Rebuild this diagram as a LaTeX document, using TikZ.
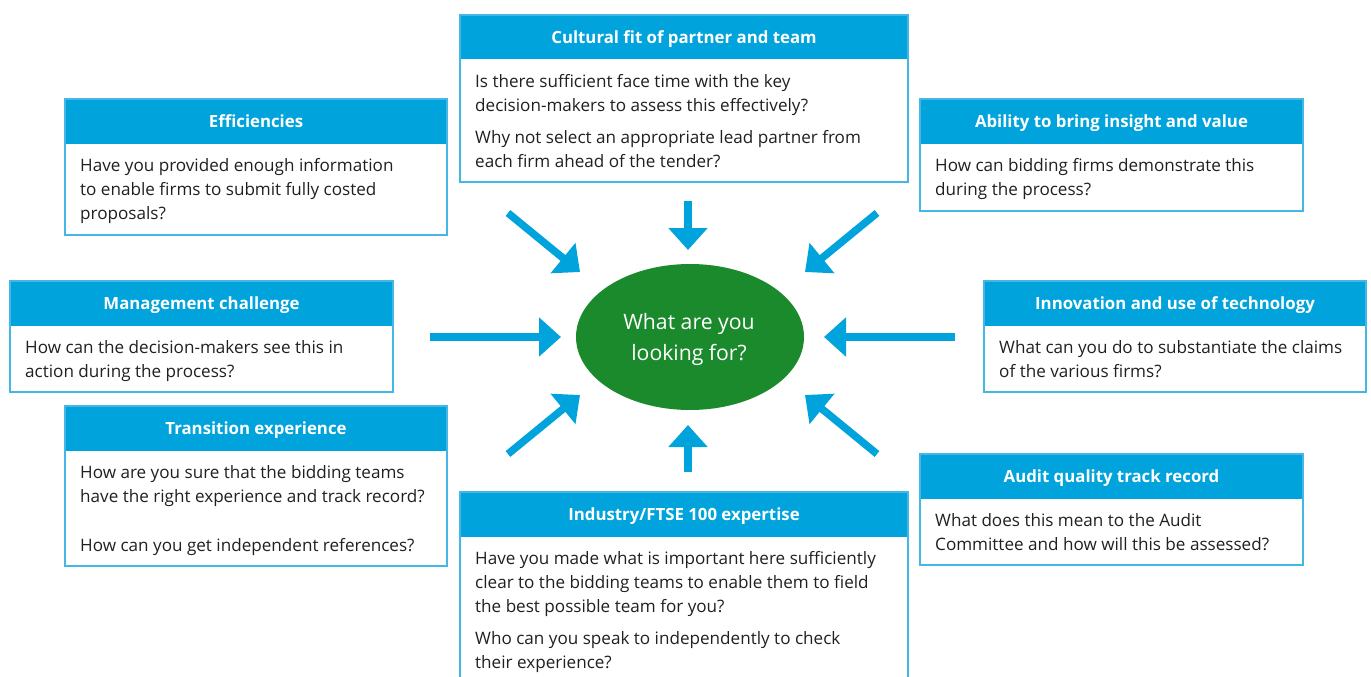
\documentclass[tikz,border=0pt]{standalone}
\usepackage{fontspec}
\setmainfont{Open Sans}
\usetikzlibrary{arrows.meta,shapes.geometric}
\definecolor{hdr}{HTML}{00A3DC}
\definecolor{brd}{HTML}{45B6E6}
\definecolor{txt}{HTML}{231F20}
\definecolor{grn}{HTML}{1B8A2C}
\tikzset{
  hdrtext/.style={text=white, font=\bfseries\fontsize{16.8}{20}\selectfont, inner sep=0pt, anchor=base},
  bodytext/.style={text=txt, font=\fontsize{17.1}{24}\selectfont, align=left, inner sep=0pt, anchor=north west},
  bigarrow/.style={draw=hdr, line width=7.5pt, -{Triangle[length=22pt,width=38pt]}},
  hub/.style={ellipse, fill=grn, minimum width=228pt, minimum height=146pt, inner sep=0pt},
  hubtext/.style={text=white, font=\fontsize{21.2}{31}\selectfont, align=center, inner sep=0pt}
}
\newcommand\qbox[7]{%
  \fill[hdr] (#2,#3) rectangle (#4,#3+44.5);
  \draw[brd, line width=1.5pt] (#2,#3) rectangle (#4,#5);
  \node[hdrtext] (#1-t) at ({(#2+#4)/2},#3+28.5) {#6};
  \node[bodytext] (#1-b) at (#2+15,#3+55.5) {\rule{0pt}{17pt}#7};
}
\begin{document}
\begin{tikzpicture}[x=1pt,y=-1pt]
\useasboundingbox[fill=white] (0,0) rectangle (1371,677);

\qbox{cult}{460}{15}{908}{182}{Cultural fit of partner and team}
 {Is there sufficient face time with the key\\decision-makers to assess this effectively?\\[8pt]Why not select an appropriate lead partner from\\each firm ahead of the tender?}
\qbox{eff}{65}{99}{447}{235}{Efficiencies}
 {Have you provided enough information\\to enable firms to submit fully costed\\proposals?}
\qbox{abil}{920}{99}{1303}{211}{Ability to bring insight and value}
 {How can bidding firms demonstrate this\\during the process?}
\qbox{mgmt}{10}{281}{393}{392}{Management challenge}
 {How can the decision-makers see this in\\action during the process?}
\qbox{innov}{984}{281}{1366}{392}{Innovation and use of technology}
 {What can you do to substantiate the claims\\of the various firms?}
\qbox{trans}{65}{406}{447}{566}{Transition experience}
 {How are you sure that the bidding teams\\have the right experience and track record?\\[25pt]How can you get independent references?}
\qbox{audit}{920}{454}{1303}{565}{Audit quality track record}
 {What does this mean to the Audit\\Committee and how will this be assessed?}
\qbox{ind}{460}{492}{908}{690}{Industry/FTSE 100 expertise}
 {Have you made what is important here sufficiently\\clear to the bidding teams to enable them to field\\the best possible team for you?\\[8pt]Who can you speak to independently to check\\their experience?}

\node[hub] (hub) at (690,337) {};
\node[hubtext] (hubtxt) at (689,339) {What are you\\looking for?};

\coordinate (aT0) at (688,201);  \coordinate (aT1) at (688,250);
\coordinate (aB0) at (688,472);  \coordinate (aB1) at (688,425);
\coordinate (aL0) at (430,337);  \coordinate (aL1) at (561,337);
\coordinate (aR0) at (955,337);  \coordinate (aR1) at (824,337);
\coordinate (aTL0) at (508,213); \coordinate (aTL1) at (580,272);
\coordinate (aTR0) at (877,213); \coordinate (aTR1) at (805,272);
\coordinate (aBL0) at (508,454); \coordinate (aBL1) at (580,395);
\coordinate (aBR0) at (877,454); \coordinate (aBR1) at (805,395);
\foreach \a in {T,B,L,R,TL,TR,BL,BR}{\draw[bigarrow] (a\a0) -- (a\a1);}
\end{tikzpicture}
\end{document}
